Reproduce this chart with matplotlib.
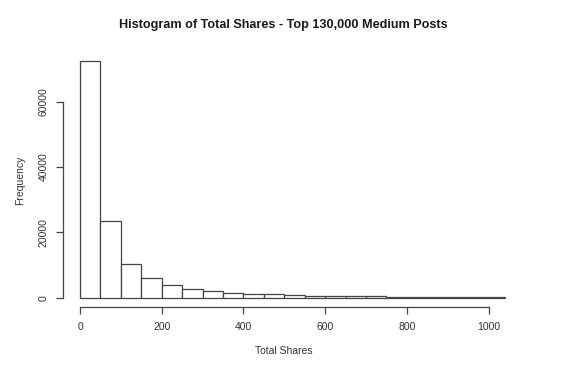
import matplotlib
matplotlib.use("Agg")
import matplotlib.pyplot as plt
import numpy as np

plt.rcParams['font.family'] = ['Liberation Sans', 'DejaVu Sans']

bin_edges = [0, 50, 100, 150, 200, 250, 300, 350, 400, 450, 500, 550, 600, 650,
             700, 750, 800, 850, 900, 950, 1000, 1040]
counts = [72500, 23600, 10400, 6000, 3800, 2750, 2150, 1550, 1250, 1000, 800,
          650, 550, 450, 380, 320, 280, 240, 210, 190, 170]
x_ticks = [0, 200, 400, 600, 800, 1000]
y_ticks = [0, 20000, 40000, 60000]
title = "Histogram of Total Shares - Top 130,000 Medium Posts"
xlabel = "Total Shares"
ylabel = "Frequency"

fig = plt.figure(figsize=(5.72, 3.77), dpi=100)
ax = fig.add_axes([63/572, 1-307.2/377, (522-63)/572, (307.2-51.4)/377])

edges = np.array(bin_edges, dtype=float)
ax.bar(edges[:-1], counts, width=np.diff(edges), align='edge',
       facecolor='white', edgecolor='#444444', linewidth=0.9)

ax.set_xlim(-41.6, 1081.6)
ax.set_ylim(-0.04*max(counts), 1.04*max(counts))
for s in ['top', 'right']:
    ax.spines[s].set_visible(False)
for s in ['bottom', 'left']:
    ax.spines[s].set_color('#444444')
    ax.spines[s].set_linewidth(0.9)
ax.spines['bottom'].set_bounds(0, 1000)
ax.spines['left'].set_bounds(0, 60000)
ax.set_xticks(x_ticks)
ax.set_yticks(y_ticks)
ax.set_xticklabels([str(t) for t in x_ticks], fontsize=7.5, color='#333')
ax.set_yticklabels([str(t) for t in y_ticks], fontsize=7.5, color='#333',
                   rotation=90, va='center')
ax.tick_params(axis='both', length=5, width=0.9, color='#444444', pad=5.5)

fig.text(283/572, 1-25/377, title, ha='center', va='center',
         fontsize=9.1, fontweight='bold', color='#1a1a1a')
fig.text(284/572, 1-351/377, xlabel, ha='center', va='center',
         fontsize=7.5, color='#333')
fig.text(20/572, 1-180/377, ylabel, ha='center', va='center', rotation=90,
         fontsize=7.5, color='#333')

fig.savefig("out.png", dpi=100)
